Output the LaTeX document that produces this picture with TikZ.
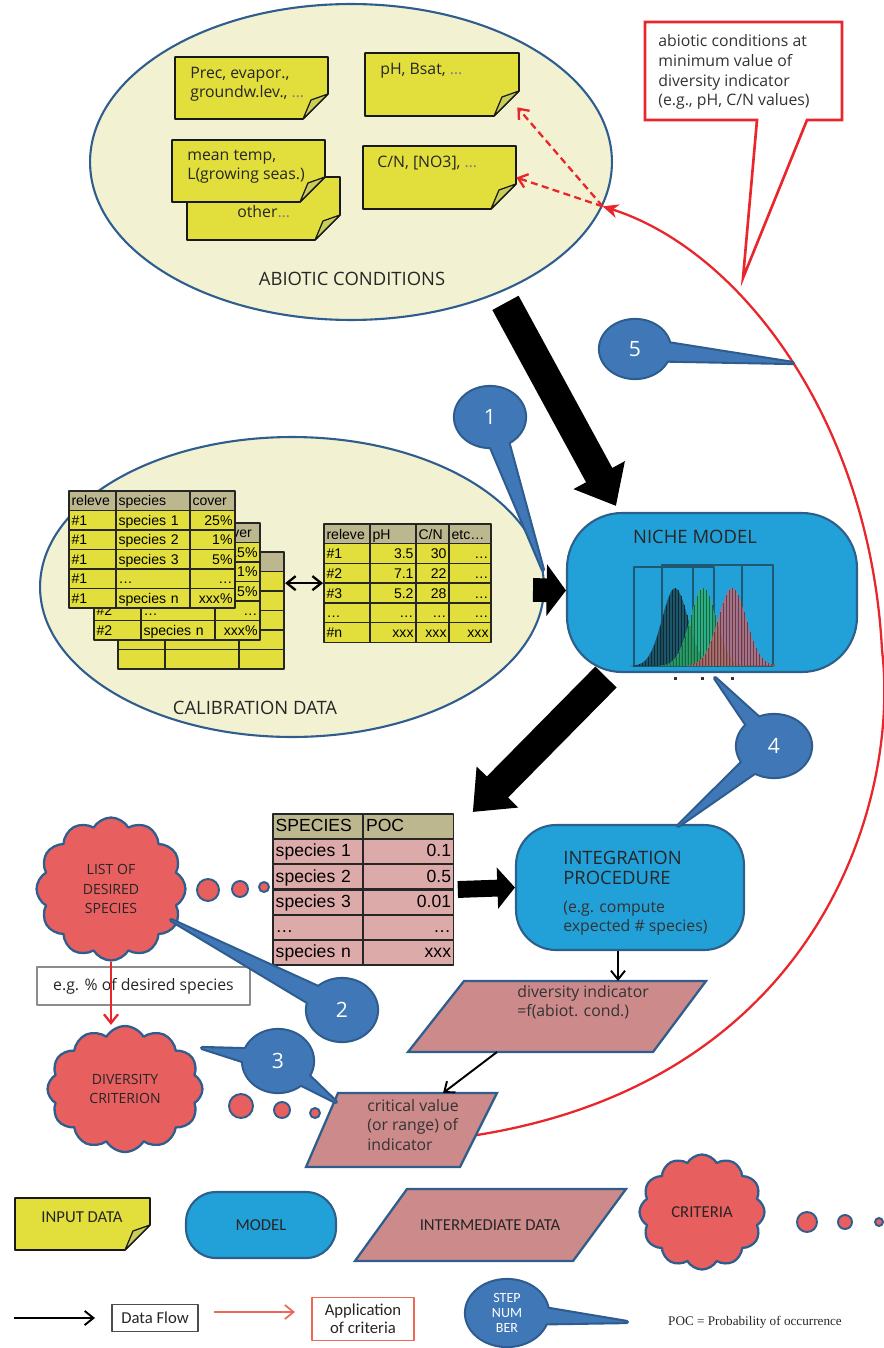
\documentclass[tikz,border=0pt]{standalone}
\usepackage{fontspec}
\setmainfont{Open Sans}
\newfontfamily\tabfont{Liberation Sans}
\newfontfamily\legfont{Carlito}
\newfontfamily\pocfont{Liberation Serif}
\usetikzlibrary{shapes.geometric,shapes.symbols,arrows.meta,calc,fit,matrix}

\definecolor{ellfill}{HTML}{F2F2D2}
\definecolor{ellline}{HTML}{2F5E8E}
\definecolor{noteyellow}{HTML}{E2DE3C}
\definecolor{notefold}{HTML}{C9CE5A}
\definecolor{hdrtan}{HTML}{BDB78F}
\definecolor{pocpink}{HTML}{DDAAAA}
\definecolor{modelblue}{HTML}{22A0D8}
\definecolor{modelline}{HTML}{2C5F8C}
\definecolor{interpink}{HTML}{CC8A8A}
\definecolor{cloudred}{HTML}{E85F60}
\definecolor{stepblue}{HTML}{4077B6}
\definecolor{stepdark}{HTML}{2E5C8E}
\definecolor{critred}{HTML}{E8262C}
\definecolor{critsoft}{HTML}{EC6A55}
\definecolor{gdark}{HTML}{1B4A5A}
\definecolor{ggreen}{HTML}{2DB56E}
\definecolor{gred}{HTML}{D46470}
\definecolor{chartline}{HTML}{1F5870}

\tikzset{
  bubble/.style={ellipse, fill=ellfill, draw=ellline, line width=1.2pt, inner sep=0pt},
  notebody/.style={fill=noteyellow, draw=black!90, line width=0.9pt, line join=round},
  notefoldst/.style={fill=notefold, draw=black!90, line width=0.7pt, line join=round},
  notetext/.style={anchor=north west, inner sep=0pt, align=left, text=black!85, font=\fontsize{9}{10.8}\selectfont},
  titletext/.style={inner sep=0pt, text=black!85, font=\fontsize{10.5}{11.3}\selectfont},
  modelbox/.style={rectangle, fill=modelblue, draw=modelline, line width=1.2pt},
  interbox/.style={fill=interpink, draw=ellline, line width=1.3pt, line join=miter},
  plaintext/.style={anchor=north west, inner sep=0pt, align=left, text=black!80, font=\fontsize{9}{11}\selectfont},
  cloudnode/.style={cloud, cloud puffs=12, cloud puff arc=120, cloud ignores aspect, fill=cloudred,
    draw=ellline, line width=1.3pt, align=center, text=black!85, font=\fontsize{8}{11.3}\selectfont},
  cloudpuff/.style={circle, fill=cloudred, draw=ellline, line width=1.1pt, inner sep=0pt},
  stepbub/.style={ellipse, fill=stepblue, text=white, inner sep=0pt, align=center, font=\fontsize{12}{14}\selectfont},
  stepedge/.style={fill=stepdark, draw=stepdark, line width=2.4pt, line join=round},
  bigarrow/.style={line width=17pt, -{Triangle[length=20pt, width=32pt]}},
  midarrow/.style={line width=13.5pt, -{Triangle[length=11pt, width=29pt]}},
  smallarrow/.style={line width=9.6pt, -{Triangle[length=10pt, width=23pt]}},
  flowarrow/.style={line width=1.1pt, ->},
  critline/.style={critred, line width=1.3pt},
  legtext/.style={text=black!85, font=\legfont\fontsize{9.5}{10.5}\selectfont},
  legbox/.style={draw=black!70, line width=0.8pt, fill=white, legtext},
  celltab/.style={matrix of nodes, nodes in empty cells, inner sep=0pt, column sep=-0.8pt, row sep=-0.8pt,
    nodes={draw=black!85, line width=0.8pt, anchor=center, inner xsep=0.05cm, inner ysep=0pt,
      align=left, text height=1.55ex, text depth=0.45ex}},
  caltab/.style={celltab, nodes={fill=noteyellow, minimum height=0.39cm, font=\tabfont\fontsize{8}{9}\selectfont},
    row 1/.style={nodes={fill=hdrtan}},
    column 1/.style={nodes={text width=0.84cm}},
    column 2/.style={nodes={text width=1.38cm}},
    column 3/.style={nodes={text width=0.8cm, align=right}},
    row 1 column 3/.style={nodes={align=left}}},
  envtab/.style={celltab, nodes={fill=noteyellow, minimum height=0.394cm, align=right, font=\tabfont\fontsize{8}{9}\selectfont},
    row 1/.style={nodes={fill=hdrtan, align=left}},
    column 1/.style={nodes={text width=0.82cm, align=left}},
    column 2/.style={nodes={text width=0.82cm}},
    column 3/.style={nodes={text width=0.56cm}},
    column 4/.style={nodes={text width=0.74cm}}},
  poctab/.style={celltab, nodes={fill=pocpink, minimum height=0.496cm, text width=1.7cm, line width=1pt,
      font=\tabfont\fontsize{10}{11}\selectfont},
    row 1/.style={nodes={fill=hdrtan}},
    column 2/.style={nodes={align=right}},
    row 1 column 2/.style={nodes={align=left}}}
}

% sticky note: name, left, top, right, bottom
\newcommand{\stickynote}[5]{%
  \draw[notebody] (#2,#3) -- (#4,#3) -- (#4,#5-25) -- (#4-25,#5) -- (#2,#5) -- cycle;
  \draw[notefoldst] (#4,#5-25) -- (#4-17,#5-19) -- (#4-25,#5) -- cycle;
  \path (#2,#3) coordinate (#1-nw) (#4,#5) coordinate (#1-se);
  \node[fit=(#1-nw)(#1-se), inner sep=0pt] (#1) {};
}

% step bubble: [label style] name, centre, label, tips, width, height
\newcommand{\stepcallout}[7][]{%
  \foreach \tip in {#5}
    \draw[stepedge] ($(#3)!0.22cm!90:(\tip)$) -- (\tip) -- ($(#3)!0.22cm!-90:(\tip)$) -- cycle;
  \node[stepbub, draw=stepdark, line width=2.4pt, minimum width=#6, minimum height=#7] at (#3) {};
  \foreach \tip in {#5}
    \fill[stepblue] ($(#3)!0.22cm!90:(\tip)$) -- (\tip) -- ($(#3)!0.22cm!-90:(\tip)$) -- cycle;
  \node[stepbub, minimum width=#6, minimum height=#7, #1] (#2) at (#3) {#4};
}

\begin{document}
\begin{tikzpicture}[x=0.02cm, y=-0.02cm, line join=round, >={Straight Barb[length=5pt,width=8pt]}]
\useasboundingbox (0,0) rectangle (884,1348);

% abiotic conditions
\node[bubble, minimum width=10.44cm, minimum height=6.32cm] (abiotic) at (351,162) {};
\stickynote{othernote}{187}{177}{340}{240}
\stickynote{tempnote}{172}{140}{325}{202}
\stickynote{precnote}{175}{57}{328}{119}
\stickynote{phnote}{365}{53}{519}{116}
\stickynote{cnnote}{363}{146}{516}{209}
\node[notetext] (prectext) at (190,67) {Prec, evapor.,\\groundw.lev., \textcolor{gray}{…}};
\node[notetext] (phtext) at (380,63) {pH, Bsat, \textcolor{gray}{…}};
\node[notetext] (temptext) at (187,150) {mean temp,\\L(growing seas.)};
\node[notetext] (othertext) at (237,205) {other\textcolor{gray}{…}};
\node[notetext] (cntext) at (377,156) {C/N, [NO3], \textcolor{gray}{…}};
\node[titletext] (abiotictitle) at (352,279) {ABIOTIC CONDITIONS};

% minimum-value note
\draw[critline, line width=1.5pt, fill=white, line join=miter] (757,120) -- (645,120) -- (645,22)
  -- (842,22) -- (842,120) -- (807,120) -- (743,278) -- cycle;
\node[plaintext, font=\fontsize{9}{11.3}\selectfont] (minnote) at (658,34)
  {abiotic conditions at\\minimum value of\\diversity indicator\\(e.g., pH, C/N values)};

% calibration data
\node[bubble, minimum width=10.08cm, minimum height=6.0cm] (calib) at (292,587) {};
\matrix[caltab, anchor=north west] (rel3) at (117,551) {
  & & \\ & & \\ & & \\ & & \\ & & \\ & & \\
};
\matrix[caltab, anchor=north west] (rel2) at (93,522) {
  & & cover \\
  & & 25\% \\
  & & 1\% \\
  & & 5\% \\
  \#2 & … & … \\
  \#2 & species n & xxx\% \\
};
\matrix[caltab, anchor=north west] (rel1) at (68,490) {
  releve & species & cover \\
  \#1 & species 1 & 25\% \\
  \#1 & species 2 & 1\% \\
  \#1 & species 3 & 5\% \\
  \#1 & … & … \\
  \#1 & species n & xxx\% \\
};
\matrix[envtab, anchor=north west] (calenv) at (323,523) {
  releve & pH & C/N & etc… \\
  \#1 & 3.5 & 30 & … \\
  \#2 & 7.1 & 22 & … \\
  \#3 & 5.2 & 28 & … \\
  … & … & … & … \\
  \#n & xxx & xxx & xxx \\
};
\draw[line width=1.3pt, {Straight Barb[length=5pt,width=8pt]}-{Straight Barb[length=5pt,width=8pt]}]
  (calenv.west -| rel3.east) -- (calenv.west);
\node[titletext] (calibtitle) at (255,708) {CALIBRATION DATA};

% niche model
\node[modelbox, rounded corners=1.1cm, minimum width=5.8cm, minimum height=3.18cm] (niche) at (712,592.5) {};
\node[titletext] (nichetitle) at (695,537) {NICHE MODEL};
\draw[chartline, line width=0.6pt] (634,567) rectangle (714,666) (662,565) rectangle (742,666)
  (693,565) rectangle (773,666);
\foreach \mc/\sg/\gcol/\op in {675/13/gdark/0.85, 703/13/ggreen/0.75, 732/14/gred/0.7} {
  \fill[\gcol, opacity=\op] (\mc-45,666) -- plot[domain=\mc-45:\mc+45, samples=40]
    (\x,{666-78*exp(-0.5*((\x-\mc)/\sg)^2)}) -- (\mc+45,666) -- cycle;
  \foreach \xs in {-42,-39,...,42}
    \draw[\gcol!55!black, line width=0.3pt] (\mc+\xs,666) -- (\mc+\xs,{666-78*exp(-0.5*((\xs)/\sg)^2)});
}
\foreach \xs in {674,701,731}
  \fill[black!80] (\xs,677) rectangle +(3,3);

% feedback from critical value to abiotic conditions
\coordinate (critout) at (477,1135);
\draw[critline, -{Stealth[length=9pt,width=8pt]}] (critout) .. controls (820,1080) and (900,800) .. (882,650)
  .. controls (870,420) and (740,250) .. (abiotic.-10);
\draw[critline, dash pattern=on 4pt off 2.5pt, ->] (abiotic.-10) -- ($(phnote.south east)+(-2,-9)$);
\draw[critline, dash pattern=on 4pt off 2.5pt, ->] (abiotic.-10) -- (cnnote.east);

% main data flow
\draw[bigarrow] ($(abiotic.-42)+(8,9)$) -- ($(niche.north west)+(50,-6)$);
\draw[midarrow] ($(calib.east)+(-12,3)$) -- ($(niche.west)+(0,-2)$);
\matrix[poctab, anchor=north west] (poc) at (272,813) {
  SPECIES & POC \\
  species 1 & 0.1 \\
  species 2 & 0.5 \\
  species 3 & 0.01 \\
  … & … \\
  species n & xxx \\
};
\draw[bigarrow] ($(niche.south west)+(40,4)$) -- ($(poc.north east)+(18,-1)$);
\node[modelbox, rounded corners=0.8cm, minimum width=4.56cm, minimum height=2.5cm] (integ) at (630,887.5) {};
\node[titletext, anchor=west, align=left] (integtitle) at (563,868) {INTEGRATION\\PROCEDURE};
\node[plaintext, anchor=west] (integnote) at (563,918.5) {(e.g. compute\\expected \# species)};
\draw[smallarrow] ($(poc.east)+(3,0)$) -- (integ.west);

% indicator and critical value
\draw[interbox] (464,981) -- (706,981) -- (653,1052) -- (408,1052) -- cycle;
\node[plaintext] (divtext) at (517,985) {diversity indicator\\=f(abiot. cond.)};
\draw[interbox] (338,1093) -- (497,1093) -- (460,1167) -- (306,1167) -- cycle;
\node[plaintext] (crittext) at (367,1099) {critical value\\(or range) of\\indicator};
\coordinate (divtop) at (618,981);
\coordinate (divbot) at (497,1052);
\coordinate (crittop) at (443,1093);
\draw[flowarrow] ($(integ.south)+(-12,0)$) -- (divtop);
\draw[flowarrow] (divbot) -- (crittop);

% criteria
\node[cloudnode, minimum width=2.98cm, minimum height=2.86cm] (desired) at (111,889) {LIST OF\\DESIRED\\SPECIES};
\node[cloudnode, minimum width=3.1cm, minimum height=2.52cm] (divcrit) at (125,1089) {DIVERSITY\\CRITERION};
\foreach \x/\y/\r [count=\i] in {208/890/0.44, 240/889/0.32, 264/887/0.2}
  \node[cloudpuff, minimum size=\r cm] (dd\i) at (\x,\y) {};
\foreach \x/\y/\r [count=\i] in {241/1106/0.48, 282/1110/0.32, 315/1113/0.2}
  \node[cloudpuff, minimum size=\r cm] (dc\i) at (\x,\y) {};
\node[draw=black!45, line width=0.8pt, fill=white, minimum width=4.26cm, minimum height=0.76cm,
  text=black!85, font=\fontsize{9}{11}\selectfont] (egnote) at (143.5,986) {e.g. \% of desired species};
\draw[critline, ->] (desired.south) -- (desired.south |- divcrit.north);

% step numbers
\coordinate (c1) at (490,417);  \coordinate (t1) at (543,570);
\coordinate (c5) at (635,349);  \coordinate (t5) at (793,363);
\coordinate (c4) at (774,746);  \coordinate (t4a) at (715,678); \coordinate (t4b) at (678,826);
\coordinate (c2) at (342,1010); \coordinate (t2) at (171,920);
\coordinate (c3) at (278,1061); \coordinate (t3a) at (202,1048); \coordinate (t3b) at (336,1102);
\stepcallout{step1}{c1}{1}{t1}{1.4cm}{1.2cm}
\stepcallout{step5}{c5}{5}{t5}{1.4cm}{1.16cm}
\stepcallout{step4}{c4}{4}{t4a,t4b}{1.48cm}{1.24cm}
\stepcallout{step2}{c2}{2}{t2}{1.4cm}{1.24cm}
\stepcallout{step3}{c3}{3}{t3a,t3b}{1.4cm}{1.24cm}

% legend
\stickynote{legnote}{15}{1198}{150}{1250}
\node[legtext] (inputlabel) at (82,1217) {INPUT DATA};
\node[modelbox, rounded corners=0.6cm, minimum width=3cm, minimum height=1.32cm, legtext] (legmodel) at (261,1225) {MODEL};
\draw[interbox] (407,1189) -- (626,1189) -- (573,1261) -- (355,1261) -- cycle;
\node[legtext] (interlabel) at (490,1225) {INTERMEDIATE DATA};
\node[cloudnode, minimum width=2.5cm, minimum height=2.3cm, legtext] (legcrit) at (702,1212) {CRITERIA};
\foreach \x/\r [count=\i] in {807/0.4, 845/0.28, 879/0.16}
  \node[cloudpuff, minimum size=\r cm] (ld\i) at (\x,1222) {};
\coordinate (lf1) at (14,1318);  \coordinate (lf2) at (95,1318);
\draw[flowarrow] (lf1) -- (lf2);
\node[legbox, minimum width=1.72cm, minimum height=0.54cm] (dataflow) at (155,1318) {Data Flow};
\coordinate (lc1) at (214,1312); \coordinate (lc2) at (295,1312);
\draw[critsoft, line width=1pt, ->] (lc1) -- (lc2);
\node[legbox, draw=critsoft, minimum width=2.04cm, minimum height=0.86cm, align=center,
  font=\legfont\fontsize{9.5}{10}\selectfont] (applic) at (363,1319) {Application\\of criteria};
\coordinate (cleg) at (507,1313); \coordinate (tleg) at (627,1322);
\stepcallout[font=\legfont\fontsize{8}{8.6}\selectfont]{legstep}{cleg}{STEP\\NUM\\BER}{tleg}{1.64cm}{1.32cm}
\node[text=black!85, font=\pocfont\fontsize{7.5}{9}\selectfont] (pocnote) at (755,1322) {POC = Probability of occurrence};
\end{tikzpicture}
\end{document}
